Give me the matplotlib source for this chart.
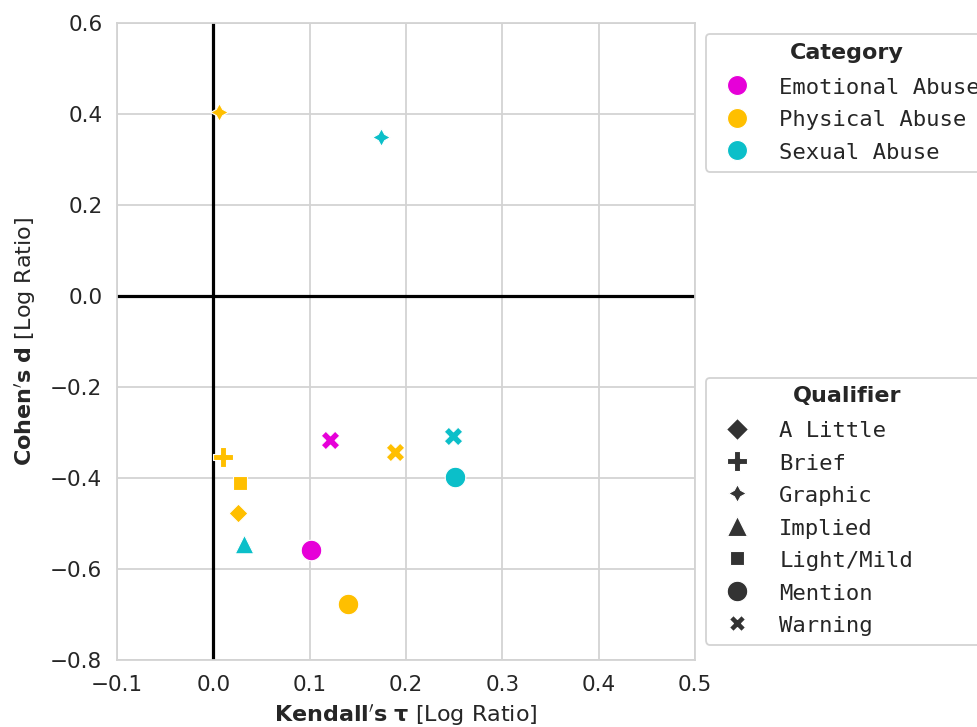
import matplotlib
matplotlib.use("Agg")
import matplotlib.pyplot as plt
from matplotlib.lines import Line2D

categories = ["Emotional Abuse", "Physical Abuse", "Sexual Abuse"]
cat_colors = ["#e600d8", "#ffbf00", "#0bbfc9"]
qualifiers = ["A Little", "Brief", "Graphic", "Implied", "Light/Mild", "Mention", "Warning"]
qual_markers = ["D", "P", (4, 1, 0), "^", "s", "o", "X"]

point_category = ["Physical Abuse", "Sexual Abuse", "Emotional Abuse", "Physical Abuse",
                  "Sexual Abuse", "Sexual Abuse", "Physical Abuse", "Physical Abuse",
                  "Physical Abuse", "Sexual Abuse", "Emotional Abuse", "Physical Abuse"]
point_qualifier = ["Graphic", "Graphic", "Warning", "Warning",
                   "Warning", "Mention", "Brief", "Light/Mild",
                   "A Little", "Implied", "Mention", "Mention"]
kendall_tau = [0.006, 0.174, 0.121, 0.189, 0.249, 0.251, 0.010, 0.028, 0.026, 0.032, 0.101, 0.140]
cohens_d = [0.404, 0.349, -0.316, -0.343, -0.308, -0.398, -0.354, -0.411, -0.477, -0.545, -0.558, -0.677]

xticks = [-0.1, 0.0, 0.1, 0.2, 0.3, 0.4, 0.5]
yticks = [0.6, 0.4, 0.2, 0.0, -0.2, -0.4, -0.6, -0.8]

# marker sizes (points) per qualifier, plot and legend
plot_ms = {"A Little": 9.6, "Brief": 14.8, "Graphic": 12.8, "Implied": 13.4,
           "Light/Mild": 9.8, "Mention": 14.8, "Warning": 13.4}
legend_ms = {"A Little": 11.0, "Brief": 14.6, "Graphic": 12.8, "Implied": 14.2,
             "Light/Mild": 9.8, "Mention": 14.8, "Warning": 12.2}

TEXT = "#262626"
GRID = "#d3d3d3"

fig = plt.figure(figsize=(9.77, 7.27), dpi=100)
ax = fig.add_axes([117/977, 1-660/727, (695-117)/977, (660-23)/727])

ax.set_xlim(-0.1, 0.5)
ax.set_ylim(-0.8, 0.6)
ax.grid(True, color=GRID, linewidth=1.3, zorder=0)
ax.set_axisbelow(True)
for s in ax.spines.values():
    s.set_color(GRID)
    s.set_linewidth(1.3)
ax.axhline(0, color="black", linewidth=2.3, zorder=1)
ax.axvline(0, color="black", linewidth=2.3, zorder=1)

cmap = dict(zip(categories, cat_colors))
mmap = dict(zip(qualifiers, qual_markers))
for x, y, c, q in zip(kendall_tau, cohens_d, point_category, point_qualifier):
    ax.scatter([x], [y], s=plot_ms[q] ** 2, color=cmap[c], marker=mmap[q],
               edgecolor="white", linewidth=0.8, zorder=3)

ax.set_xticks(xticks)
ax.set_yticks(yticks)
ax.set_xticklabels([f"{t:.1f}".replace("-", "\u2212") for t in xticks],
                   fontsize=15.5, color=TEXT)
ax.set_yticklabels([f"{t:.1f}".replace("-", "\u2212") for t in yticks],
                   fontsize=15.5, color=TEXT)
ax.tick_params(length=0, pad=10.5)

ax.set_xlabel(r"$\mathbf{Kendall's\ \tau}$ [Log Ratio]", fontsize=16,
              color=TEXT, labelpad=6)
ax.set_ylabel(r"$\mathbf{Cohen's\ d}$ [Log Ratio]", fontsize=16,
              color=TEXT, labelpad=9)

LEG_X = (706 - 117) / 578
LEG_W = (988 - 706) / 578
common = dict(loc="upper left", mode="expand",
              prop={"family": "DejaVu Sans Mono", "size": 16},
              title_fontproperties={"family": "DejaVu Sans", "weight": "bold", "size": 16},
              frameon=True, edgecolor=GRID, borderaxespad=0, handletextpad=0.9,
              labelspacing=0.5, borderpad=0.4, handlelength=2.0, handleheight=0.97,
              framealpha=1)


def style_legend(leg):
    leg.get_frame().set_linewidth(1.3)
    for t in leg.get_texts():
        t.set_color(TEXT)
    leg.get_title().set_color(TEXT)
    leg._legend_box.sep = 9.7


cat_handles = [Line2D([], [], linestyle="none", marker="o", markersize=14.4,
                      markerfacecolor=col, markeredgecolor="white", markeredgewidth=0.8)
               for col in cat_colors]
leg1 = ax.legend(cat_handles, categories, title="Category",
                 bbox_to_anchor=(LEG_X, 0.0, LEG_W, (660 - 34) / 637), **common)
style_legend(leg1)
ax.add_artist(leg1)

qual_handles = [Line2D([], [], linestyle="none", marker=m, markersize=legend_ms[q],
                       markerfacecolor="#333333", markeredgecolor="white", markeredgewidth=0.8)
                for q, m in zip(qualifiers, qual_markers)]
leg2 = ax.legend(qual_handles, qualifiers, title="Qualifier",
                 bbox_to_anchor=(LEG_X, 0.0, LEG_W, (660 - 377.5) / 637), **common)
style_legend(leg2)

fig.savefig("out.png", dpi=100)
